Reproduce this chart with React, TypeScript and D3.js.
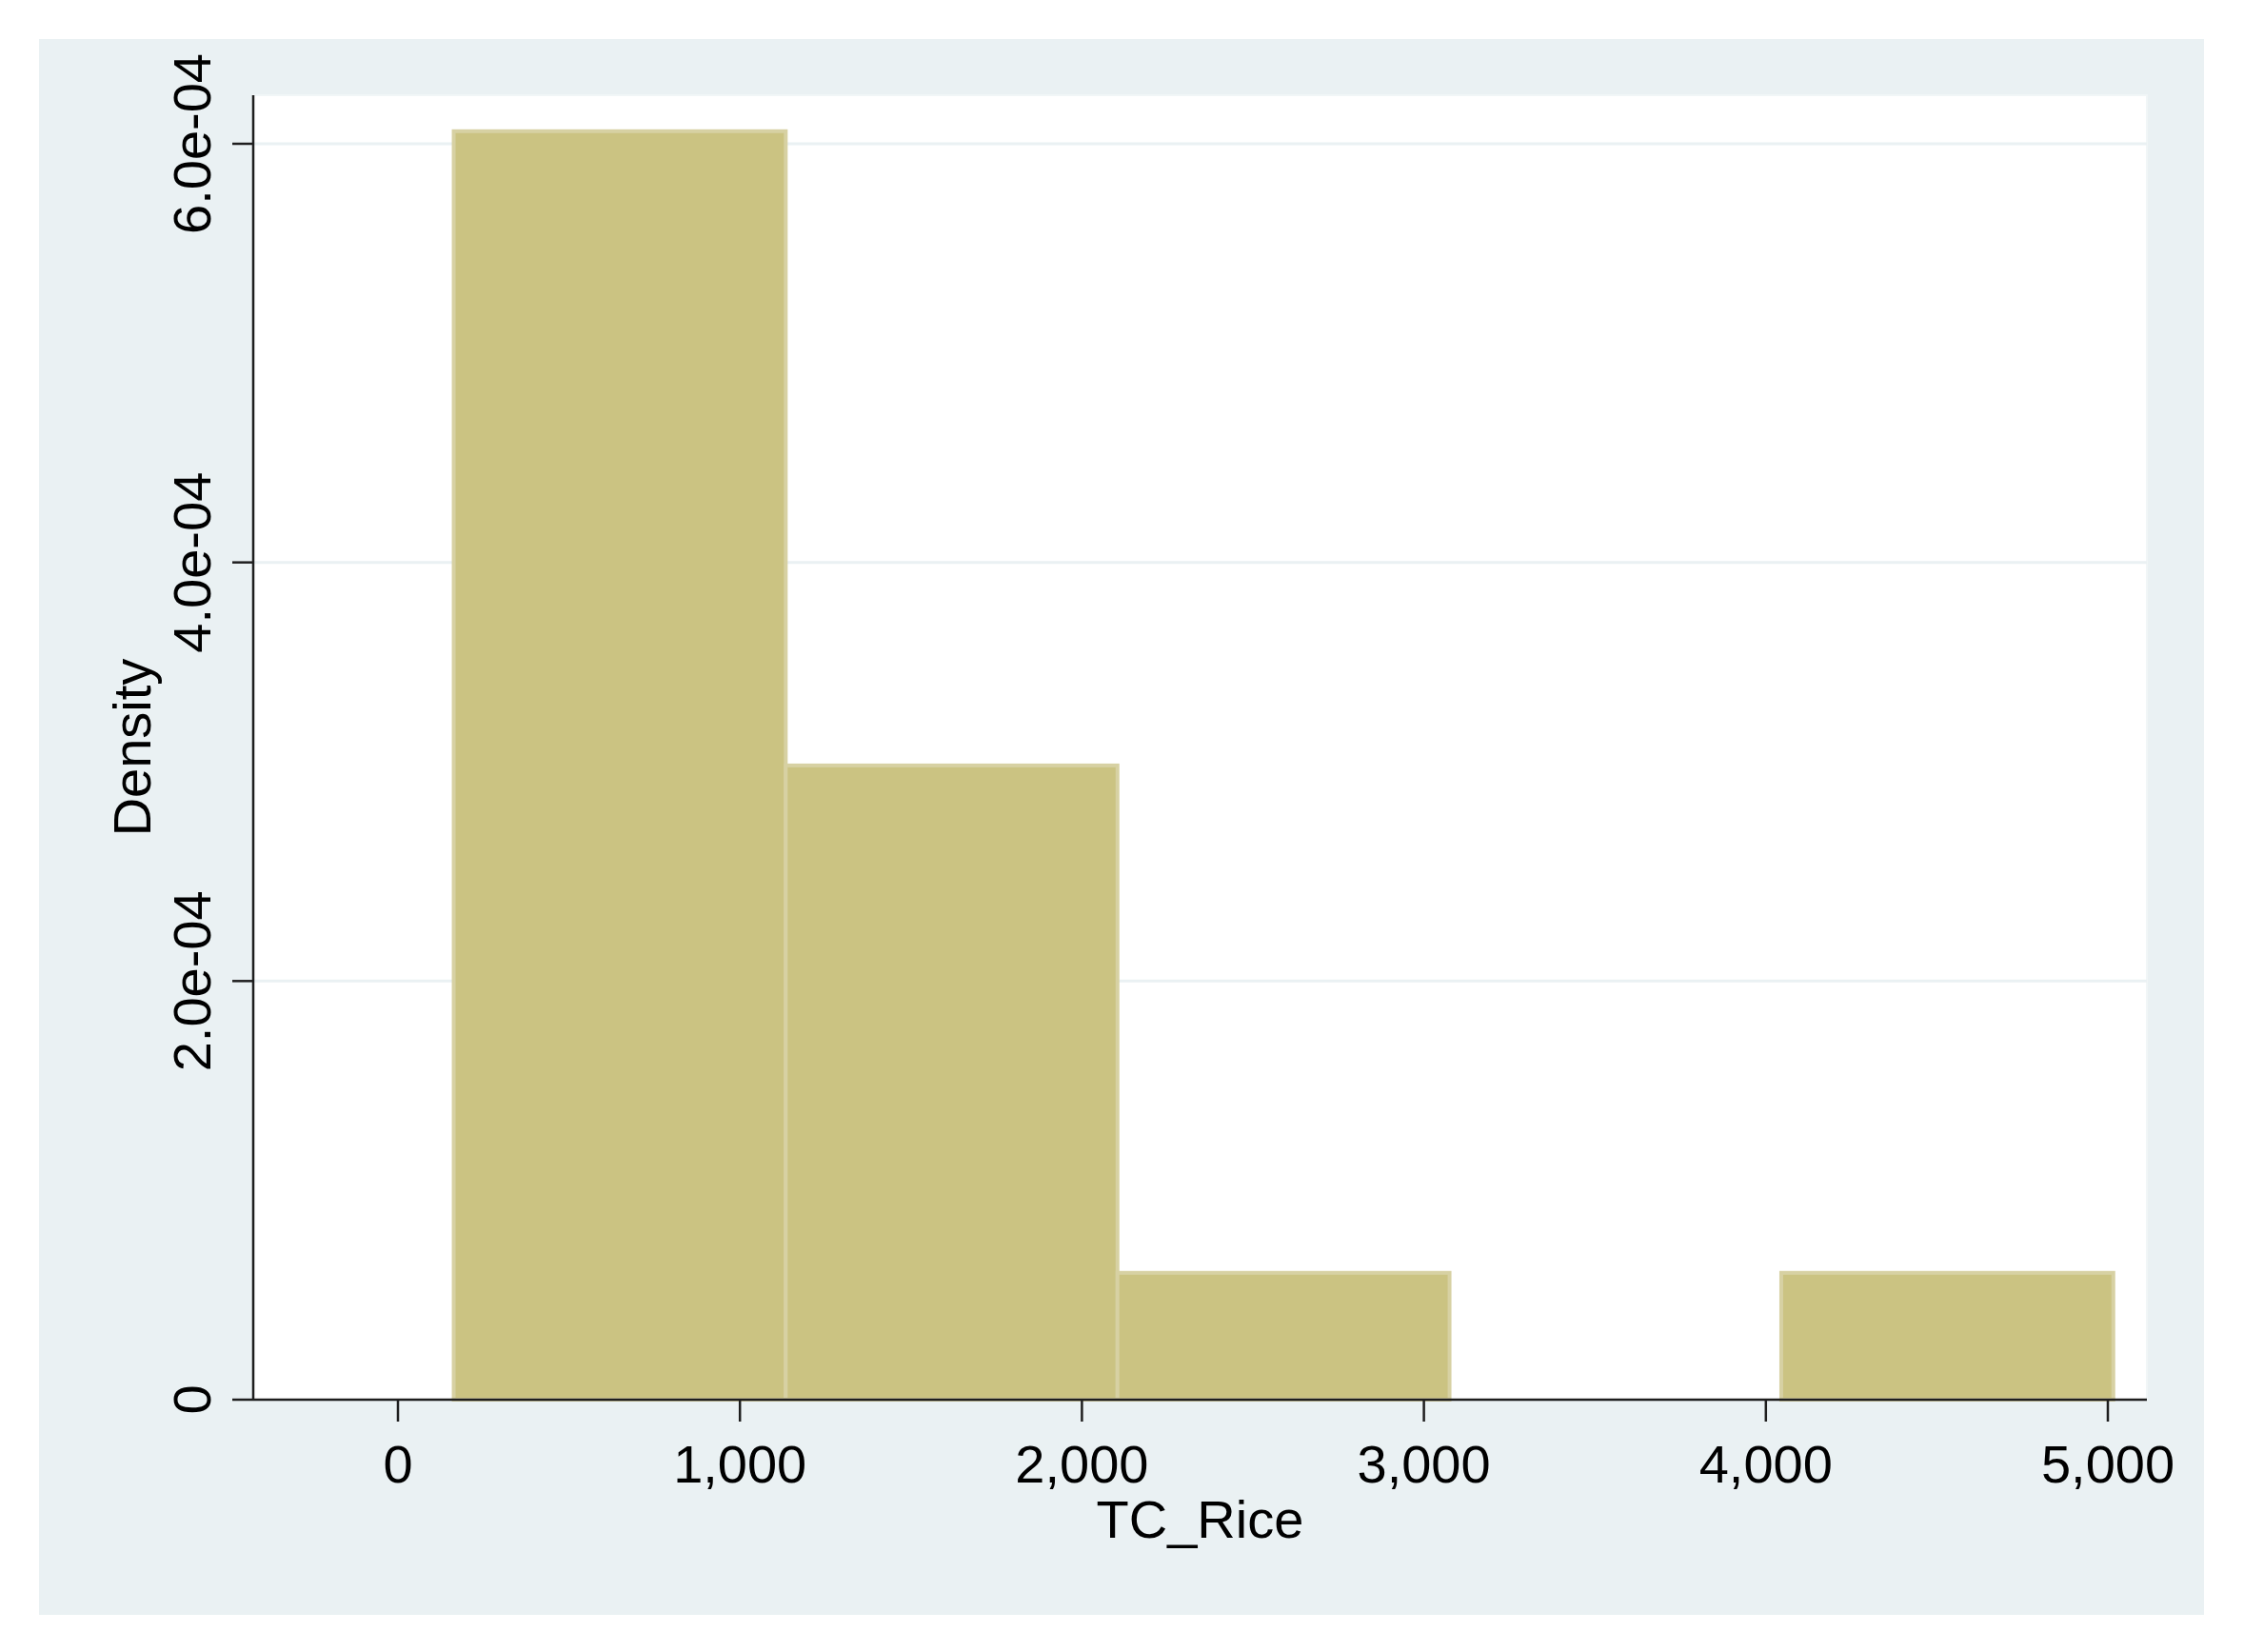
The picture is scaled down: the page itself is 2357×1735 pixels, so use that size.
import React from "react";
import * as d3 from "d3";

// ---- data ----
const binEdges: number[] = [163, 1134, 2104, 3075, 4045, 5016];
const densities: number[] = [6.06e-4, 3.03e-4, 0.606e-4, 0, 0.606e-4];
const xTicks: number[] = [0, 1000, 2000, 3000, 4000, 5000];
const xTickLabels: string[] = ["0", "1,000", "2,000", "3,000", "4,000", "5,000"];
const yTicks: number[] = [0, 2e-4, 4e-4, 6e-4];
const yTickLabels: string[] = ["0", "2.0e-04", "4.0e-04", "6.0e-04"];
const xTitle = "TC_Rice";
const yTitle = "Density";

// ---- layout ----
const W = 2357;
const H = 1735;
const outer = { x0: 41, y0: 41, x1: 2315, y1: 1696 };
const plot = { x0: 266, y0: 100, x1: 2255, y1: 1470 };
const FONT = "'Liberation Sans', Arial, Helvetica, sans-serif";
const FS = 56;

export default function App() {
  const x = d3.scaleLinear().domain([0, 5000]).range([418, 2214]);
  const y = d3.scaleLinear().domain([0, 6e-4]).range([1470, 151]);

  const bars = densities
    .map((d, i) => ({ d, x0: binEdges[i], x1: binEdges[i + 1] }))
    .filter((b) => b.d > 0);

  return (
    <svg
      width={W}
      height={H}
      viewBox={`0 0 ${W} ${H}`}
      style={{ position: "absolute", left: 0, top: 0, display: "block" }}
    >
      <rect x={0} y={0} width={W} height={H} fill="#ffffff" />
      <rect
        x={outer.x0}
        y={outer.y0}
        width={outer.x1 - outer.x0}
        height={outer.y1 - outer.y0}
        fill="#EAF1F3"
      />
      <rect
        x={plot.x0}
        y={plot.y0}
        width={plot.x1 - plot.x0}
        height={plot.y1 - plot.y0}
        fill="#ffffff"
        stroke="#F1F6F7"
        strokeWidth={2}
      />
      {/* gridlines */}
      {yTicks
        .filter((t) => t > 0)
        .map((t) => (
          <line
            key={"g" + t}
            x1={plot.x0}
            x2={plot.x1}
            y1={y(t)}
            y2={y(t)}
            stroke="#EAF1F3"
            strokeWidth={3}
          />
        ))}
      {/* bars */}
      {bars.map((b, i) => (
        <rect
          key={"b" + i}
          x={x(b.x0)}
          y={y(b.d)}
          width={x(b.x1) - x(b.x0)}
          height={y(0) - y(b.d)}
          fill="#CBC382"
          stroke="#D7D1A3"
          strokeWidth={4}
        />
      ))}
      {/* axes */}
      <line x1={plot.x0} x2={plot.x0} y1={plot.y0} y2={plot.y1 + 1} stroke="#1e1e1e" strokeWidth={2.5} />
      <line x1={plot.x0} x2={plot.x1} y1={plot.y1} y2={plot.y1} stroke="#1e1e1e" strokeWidth={2.5} />
      {/* y ticks */}
      {yTicks.map((t, i) => (
        <g key={"yt" + i}>
          <line x1={244} x2={plot.x0} y1={y(t)} y2={y(t)} stroke="#1e1e1e" strokeWidth={2.5} />
          <text
            transform={`translate(221, ${y(t)}) rotate(-90)`}
            textAnchor="middle"
            fontFamily={FONT}
            fontSize={FS}
            fill="#000"
          >
            {yTickLabels[i]}
          </text>
        </g>
      ))}
      {/* x ticks */}
      {xTicks.map((t, i) => (
        <g key={"xt" + i}>
          <line x1={x(t)} x2={x(t)} y1={plot.y1} y2={plot.y1 + 23} stroke="#1e1e1e" strokeWidth={2.5} />
          <text
            x={x(t)}
            y={1557}
            textAnchor="middle"
            fontFamily={FONT}
            fontSize={FS}
            fill="#000"
          >
            {xTickLabels[i]}
          </text>
        </g>
      ))}
      {/* titles */}
      <text
        x={(plot.x0 + plot.x1) / 2}
        y={1615}
        textAnchor="middle"
        fontFamily={FONT}
        fontSize={FS}
        fill="#000"
      >
        {xTitle}
      </text>
      <text
        transform={`translate(158, ${(plot.y0 + plot.y1) / 2}) rotate(-90)`}
        textAnchor="middle"
        fontFamily={FONT}
        fontSize={FS}
        fill="#000"
      >
        {yTitle}
      </text>
    </svg>
  );
}
